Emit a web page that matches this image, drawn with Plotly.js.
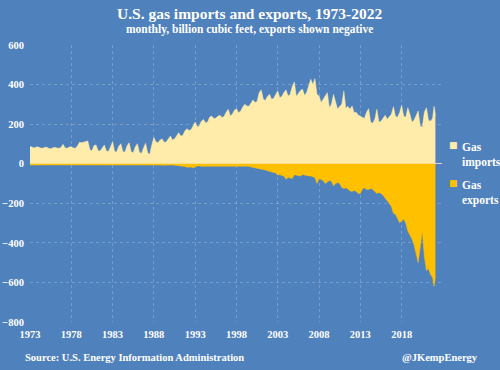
<!DOCTYPE html>
<html>
<head>
<meta charset="utf-8">
<script src="https://cdn.plot.ly/plotly-3.0.1.min.js"></script>
<style>html,body{margin:0;padding:0;background:#4F81BD;}#chart{width:500px;height:370px;}</style>
</head>
<body>
<div id="chart"></div>
<script>
// Quarterly readings (Jan, Apr, Jul, Oct) for 1973-2021, then monthly tail
const years = [];
for (let y = 1973; y <= 2021; y++) years.push(y);
const quarterMonths = ['01', '04', '07', '10'];
const tailDates = ['2021-12', '2022-01', '2022-02'];

// Gas imports, billion cubic feet per month
const imports = [
  88, 82, 80, 84,   // 1973
  85, 80, 78, 82,   // 1974
  84, 78, 76, 80,   // 1975
  83, 80, 78, 82,   // 1976
  98, 80, 78, 84,   // 1977
  86, 80, 78, 90,   // 1978
  108, 106, 110, 112, // 1979
  115, 72, 64, 92,  // 1980
  95, 66, 64, 80,   // 1981
  94, 64, 62, 85,   // 1982
  111, 62, 59, 88,  // 1983
  101, 60, 59, 90,  // 1984
  106, 60, 56, 85,  // 1985
  101, 58, 52, 80,  // 1986
  103, 55, 47, 95,  // 1987
  132, 110, 106, 120, // 1988
  125, 108, 110, 125, // 1989
  140, 120, 125, 140, // 1990
  157, 140, 142, 165, // 1991
  177, 168, 172, 190, // 1992
  211, 187, 190, 215, // 1993
  224, 207, 210, 235, // 1994
  241, 228, 230, 240, // 1995
  245, 233, 238, 260, // 1996
  275, 241, 250, 270, // 1997
  278, 258, 265, 285, // 1998
  300, 292, 290, 305, // 1999
  322, 309, 315, 360, // 2000
  373, 326, 320, 340, // 2001
  351, 326, 330, 350, // 2002
  368, 334, 340, 360, // 2003
  373, 342, 350, 390, // 2004
  413, 340, 355, 370, // 2005
  376, 345, 360, 390, // 2006
  427, 400, 430, 350, // 2007
  342, 309, 326, 340, // 2008
  359, 283, 300, 350, // 2009
  309, 275, 290, 300, // 2010
  368, 280, 290, 275, // 2011
  292, 258, 260, 245, // 2012
  241, 233, 230, 260, // 2013
  278, 210, 205, 225, // 2014
  275, 210, 215, 230, // 2015
  245, 225, 240, 250, // 2016
  288, 240, 235, 258, // 2017
  295, 240, 235, 283, // 2018
  250, 210, 220, 245, // 2019
  266, 190, 185, 260, // 2020
  283, 220, 215, 230, // 2021
  290, 275, 245       // Dec 2021 - Feb 2022
];

// Gas exports, shown negative
const exportsNeg = [
  -7, -6, -6, -7,   // 1973
  -7, -6, -6, -6,   // 1974
  -6, -6, -6, -6,   // 1975
  -6, -5, -5, -6,   // 1976
  -5, -5, -5, -5,   // 1977
  -5, -4, -4, -5,   // 1978
  -5, -4, -5, -5,   // 1979
  -5, -4, -4, -4,   // 1980
  -5, -5, -5, -5,   // 1981
  -5, -4, -4, -5,   // 1982
  -5, -4, -4, -5,   // 1983
  -5, -4, -4, -5,   // 1984
  -5, -4, -4, -5,   // 1985
  -6, -5, -5, -6,   // 1986
  -5, -4, -4, -5,   // 1987
  -7, -6, -6, -7,   // 1988
  -8, -8, -9, -10,  // 1989
  -7, -6, -7, -8,   // 1990
  -10, -11, -12, -14, // 1991
  -18, -16, -17, -20, // 1992
  -14, -11, -11, -13, // 1993
  -14, -13, -13, -15, // 1994
  -14, -12, -12, -14, // 1995
  -14, -12, -12, -14, // 1996
  -14, -12, -13, -14, // 1997
  -14, -12, -12, -15, // 1998
  -15, -12, -13, -16, // 1999
  -18, -20, -21, -25, // 2000
  -28, -30, -32, -35, // 2001
  -40, -42, -44, -47, // 2002
  -58, -55, -60, -62, // 2003
  -78, -70, -72, -75, // 2004
  -56, -58, -60, -62, // 2005
  -55, -58, -60, -62, // 2006
  -62, -66, -70, -100, // 2007
  -75, -80, -85, -100, // 2008
  -90, -85, -88, -112, // 2009
  -100, -95, -100, -120, // 2010
  -125, -122, -128, -138, // 2011
  -140, -135, -140, -150, // 2012
  -150, -128, -122, -130, // 2013
  -130, -125, -130, -140, // 2014
  -150, -145, -150, -160, // 2015
  -175, -185, -200, -215, // 2016
  -250, -255, -275, -298, // 2017
  -290, -280, -300, -340, // 2018
  -360, -380, -410, -460, // 2019
  -500, -420, -340, -470, // 2020
  -540, -530, -560, -575, // 2021
  -620, -600, -570        // Dec 2021 - Feb 2022
];

const tickYears = ['1973', '1978', '1983', '1988', '1993', '1998', '2003', '2008', '2013', '2018'];

const dates = [];
years.forEach(y => quarterMonths.forEach(m => dates.push(y + '-' + m + '-01')));
tailDates.forEach(d => dates.push(d + '-01'));

const BG = '#4F81BD';
const IMP = '#FFEBAA';
const EXP = '#FFC000';
const FONT = 'Liberation Serif, Times New Roman, serif';
const GRID = 'rgba(255,255,255,0.22)';

const traces = [
  {x: dates, y: imports, type: 'scatter', mode: 'lines', fill: 'tozeroy',
   fillcolor: IMP, line: {color: IMP, width: 0.5}, showlegend: false, hoverinfo: 'skip'},
  {x: dates, y: exportsNeg, type: 'scatter', mode: 'lines', fill: 'tozeroy',
   fillcolor: EXP, line: {color: EXP, width: 0.5}, showlegend: false, hoverinfo: 'skip'}
];

const W = 412, H = 277, L = 30, T = 45;
const px = x => (x - L) / W;
const py = y => (T + H - y) / H;

const layout = {
  width: 500, height: 370,
  margin: {l: L, r: 500 - L - W, t: T, b: 370 - T - H},
  paper_bgcolor: BG, plot_bgcolor: BG,
  font: {family: FONT, color: '#FFFFFF'},
  showlegend: false,
  xaxis: {
    type: 'date',
    range: ['1973-01-01', '2022-11-20'],
    tickvals: tickYears.map(y => y + '-01-01'),
    ticktext: tickYears,
    showgrid: true, gridcolor: GRID, griddash: 'dot', gridwidth: 1,
    zeroline: false, showline: false, ticks: '', ticklabelstandoff: 4,
    tickfont: {family: FONT, size: 10.5, color: '#FFFFFF', weight: 'bold'}
  },
  yaxis: {
    range: [-800, 600],
    tickvals: [-800, -600, -400, -200, 0, 200, 400, 600],
    showgrid: true, gridcolor: GRID, griddash: 'dot', gridwidth: 1,
    zeroline: true, zerolinecolor: '#D9D9D9', zerolinewidth: 1,
    showline: false, ticks: '', ticklabelstandoff: 5,
    tickfont: {family: FONT, size: 10.5, color: '#FFFFFF', weight: 'bold'}
  },
  annotations: [
    {text: 'U.S. gas imports and exports, 1973-2022', xref: 'paper', yref: 'paper',
     x: px(249), y: py(14), xanchor: 'center', yanchor: 'middle', showarrow: false,
     font: {family: FONT, size: 15.5, color: '#FFFFFF', weight: 'bold'}},
    {text: 'monthly, billion cubic feet, exports shown negative', xref: 'paper', yref: 'paper',
     x: px(249), y: py(30), xanchor: 'center', yanchor: 'middle', showarrow: false,
     font: {family: FONT, size: 11.5, color: '#FFFFFF', weight: 'bold'}},
    {text: 'Source: U.S. Energy Information Administration', xref: 'paper', yref: 'paper',
     x: px(23), y: py(357), xanchor: 'left', yanchor: 'middle', showarrow: false,
     font: {family: FONT, size: 10.5, color: '#FFFFFF', weight: 'bold'}},
    {text: '@JKempEnergy', xref: 'paper', yref: 'paper',
     x: px(480), y: py(357), xanchor: 'right', yanchor: 'middle', showarrow: false,
     font: {family: FONT, size: 10.5, color: '#FFFFFF', weight: 'bold'}},
    {text: '■', xref: 'paper', yref: 'paper', x: px(453), y: py(145), xanchor: 'center', yanchor: 'middle',
     showarrow: false, font: {family: 'DejaVu Sans', size: 9, color: IMP}},
    {text: 'Gas<br>imports', xref: 'paper', yref: 'paper', x: px(460), y: py(139), xanchor: 'left', yanchor: 'top',
     align: 'left', showarrow: false, font: {family: FONT, size: 11.5, color: '#FFFFFF', weight: 'bold'}},
    {text: '■', xref: 'paper', yref: 'paper', x: px(453), y: py(183), xanchor: 'center', yanchor: 'middle',
     showarrow: false, font: {family: 'DejaVu Sans', size: 9, color: EXP}},
    {text: 'Gas<br>exports', xref: 'paper', yref: 'paper', x: px(460), y: py(177), xanchor: 'left', yanchor: 'top',
     align: 'left', showarrow: false, font: {family: FONT, size: 11.5, color: '#FFFFFF', weight: 'bold'}}
  ]
};

Plotly.newPlot('chart', traces, layout, {displayModeBar: false, staticPlot: true});
</script>
</body>
</html>
